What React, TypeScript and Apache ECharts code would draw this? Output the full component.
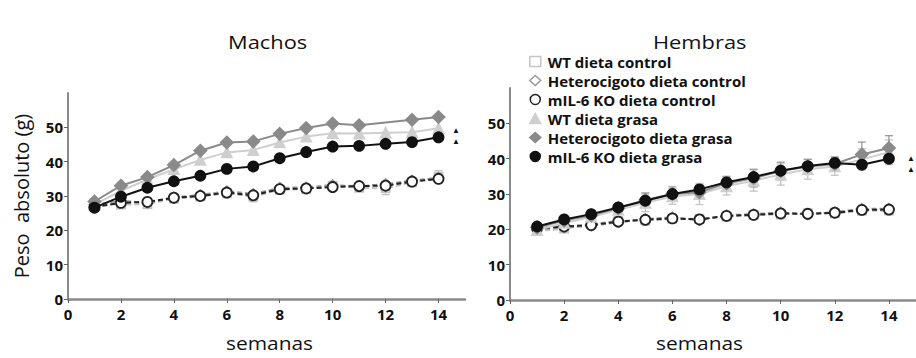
import React, { useEffect, useRef } from "react";
import * as echarts from "echarts";

const weeks = [1, 2, 3, 4, 5, 6, 7, 8, 9, 10, 11, 12, 13, 14];
const xTicks = [0, 2, 4, 6, 8, 10, 12, 14];
const yTicks = [0, 10, 20, 30, 40, 50];
const seriesNames = [
  "WT dieta control",
  "Heterocigoto dieta control",
  "mIL-6 KO dieta control",
  "WT dieta grasa",
  "Heterocigoto dieta grasa",
  "mIL-6 KO dieta grasa",
];

// Machos (males)
const mWTControl = [28.0, 27.5, 27.6, 29.2, 29.8, 30.8, 29.8, 31.8, 32.0, 33.0, 32.4, 32.2, 34.0, 35.6];
const mHetControl = [27.5, 28.6, 28.0, 29.6, 30.3, 31.4, 30.6, 32.4, 32.5, 33.2, 32.8, 33.5, 34.5, 35.3];
const mKOControl = [26.8, 28.0, 28.3, 29.5, 30.0, 31.0, 30.2, 32.0, 32.2, 32.6, 32.9, 33.0, 34.2, 35.0];
const mWTGrasa = [27.5, 31.5, 34.8, 37.8, 40.5, 42.7, 43.4, 45.6, 47.3, 48.3, 48.2, 48.4, 48.6, 49.7];
const mHetGrasa = [28.4, 33.0, 35.5, 39.0, 43.2, 45.6, 45.9, 48.1, 49.8, 51.1, 50.6, null, 52.2, 53.0];
const mKOGrasa = [26.6, 29.8, 32.4, 34.3, 35.9, 37.9, 38.6, 41.0, 42.8, 44.4, 44.6, 45.2, 45.7, 47.1];
const mWTControlErr = [1.0, 0.8, 1.2, 0.8, 0.8, 1.0, 1.5, 0.8, 0.8, 1.0, 1.0, 1.8, 1.0, 1.8];

// Hembras (females)
const fWTControl = [19.5, 20.2, 21.5, 22.4, 22.5, 23.0, 23.0, 23.6, 24.0, 24.2, 24.6, 24.5, 25.2, 25.3];
const fHetControl = [20.0, 20.5, 21.0, 22.0, 22.9, 23.4, 22.6, 24.0, 24.3, 24.8, 24.2, 24.9, 25.8, 25.8];
const fKOControl = [20.3, 20.8, 21.2, 22.2, 22.7, 23.1, 22.8, 23.8, 24.1, 24.5, 24.4, 24.7, 25.5, 25.6];
const fWTGrasa = [19.8, 21.8, 23.5, 25.5, 27.5, 29.3, 30.0, 32.2, 33.8, 35.5, 37.0, 37.8, 39.8, 41.8];
const fHetGrasa = [20.5, 22.5, 24.0, 26.0, 28.3, 30.0, 30.5, 33.0, 34.5, 36.5, 37.8, 38.5, 41.2, 43.0];
const fKOGrasa = [20.8, 22.8, 24.3, 26.2, 28.1, 30.0, 31.3, 33.3, 34.8, 36.6, 37.9, 38.8, 38.3, 40.0];
const fWTGrasaErr = [0.8, 0.8, 1.0, 1.2, 2.5, 2.2, 3.0, 2.5, 3.0, 3.0, 2.8, 2.5, 3.0, 3.5];
const fHetGrasaErr = [0.6, 0.8, 1.0, 1.0, 2.0, 2.0, 2.0, 2.0, 2.5, 2.5, 2.0, 2.0, 3.5, 3.5];

const FONT = "Open Sans";

const styles = [
  { symbol: "rect", size: 8, color: "#c4c4c4", fill: "#ffffff", dashed: true, lineColor: "#c4c4c4" },
  { symbol: "diamond", size: 10, color: "#9a9a9a", fill: "#ffffff", dashed: true, lineColor: "#9a9a9a" },
  { symbol: "circle", size: 10, color: "#222222", fill: "#ffffff", dashed: true, lineColor: "#222222" },
  { symbol: "triangle", size: 10, color: "#cfcfcf", fill: "#cfcfcf", dashed: false, lineColor: "#cfcfcf" },
  { symbol: "diamond", size: 12, color: "#8a8a8a", fill: "#8a8a8a", dashed: false, lineColor: "#8a8a8a" },
  { symbol: "circle", size: 10, color: "#111111", fill: "#111111", dashed: false, lineColor: "#111111" },
];

function pairs(vals: (number | null)[]) {
  return weeks.map((w, i) => [w, vals[i]]);
}

function errData(vals: (number | null)[], errs: number[]) {
  return weeks
    .map((w, i) => (vals[i] == null ? null : [w, (vals[i] as number) - errs[i], (vals[i] as number) + errs[i]]))
    .filter((d) => d !== null);
}

function errorSeries(idx: number, vals: (number | null)[], errs: number[], color: string) {
  return {
    type: "custom",
    xAxisIndex: idx,
    yAxisIndex: idx,
    z: 1,
    silent: true,
    data: errData(vals, errs),
    renderItem: (_params: any, api: any) => {
      const x = api.value(0);
      const p1 = api.coord([x, api.value(1)]);
      const p2 = api.coord([x, api.value(2)]);
      const w = 4;
      const st = { stroke: color, lineWidth: 1.3 };
      return {
        type: "group",
        children: [
          { type: "line", shape: { x1: p1[0], y1: p1[1], x2: p2[0], y2: p2[1] }, style: st },
          { type: "line", shape: { x1: p1[0] - w, y1: p1[1], x2: p1[0] + w, y2: p1[1] }, style: st },
          { type: "line", shape: { x1: p2[0] - w, y1: p2[1], x2: p2[0] + w, y2: p2[1] }, style: st },
        ],
      };
    },
  };
}

function lineSeries(idx: number, k: number, vals: (number | null)[]) {
  const s = styles[k];
  return {
    type: "line",
    name: seriesNames[k],
    xAxisIndex: idx,
    yAxisIndex: idx,
    data: pairs(vals),
    connectNulls: true,
    symbol: s.symbol,
    symbolSize: s.size,
    z: 2 + k,
    itemStyle: { color: s.fill, borderColor: s.color, borderWidth: 1.8 },
    lineStyle: { color: s.lineColor, width: 2, type: s.dashed ? [5, 3] : "solid" },
  };
}

function xAxis(idx: number) {
  return {
    type: "value",
    gridIndex: idx,
    min: 0,
    max: 15,
    axisLine: { show: true, lineStyle: { color: "#8a8a8a", width: 2.5 } },
    axisTick: { show: true, customValues: xTicks, length: 4, lineStyle: { color: "#666", width: 1 } },
    axisLabel: {
      customValues: xTicks,
      color: "#111",
      fontFamily: FONT,
      fontWeight: "bold",
      fontSize: 15,
      margin: 7,
    },
    splitLine: { show: false },
  };
}

function yAxis(idx: number) {
  return {
    type: "value",
    gridIndex: idx,
    min: 0,
    max: 60,
    axisLine: { show: true, lineStyle: { color: "#8a8a8a", width: 2 } },
    axisTick: { show: true, customValues: yTicks, length: 4, lineStyle: { color: "#666", width: 1 } },
    axisLabel: {
      customValues: yTicks,
      color: "#111",
      fontFamily: FONT,
      fontWeight: "bold",
      fontSize: 15,
      margin: 5,
    },
    splitLine: { show: false },
  };
}

export default function App() {
  const ref = useRef<HTMLDivElement>(null);

  useEffect(() => {
    if (!ref.current) return;
    const chart = echarts.init(ref.current, null, { renderer: "svg" });

    const legendData = seriesNames.map((n, k) => ({
      name: n,
      icon: styles[k].symbol,
      itemStyle: { color: styles[k].fill, borderColor: styles[k].color, borderWidth: 1.5 },
    }));

    const option: any = {
      animation: false,
      backgroundColor: "#ffffff",
      grid: [
        { left: 68, top: 93, width: 397, height: 206 },
        { left: 510, top: 88, width: 412, height: 212 },
      ],
      xAxis: [xAxis(0), xAxis(1)],
      yAxis: [yAxis(0), yAxis(1)],
      legend: {
        orient: "vertical",
        left: 524,
        top: 49,
        itemGap: 4,
        itemWidth: 11,
        itemHeight: 10,
        selectedMode: false,
        data: legendData,
        textStyle: {
          fontFamily: FONT,
          fontWeight: "bold",
          fontSize: 15,
          lineHeight: 15,
          color: "#111",
          padding: [0, 0, 0, 2],
        },
      },
      graphic: [
        { type: "text", left: 228, top: 32, scaleX: 1.15, style: { text: "Machos", font: `19px '${FONT}'`, fill: "#111" } },
        { type: "text", left: 653, top: 32, scaleX: 1.15, style: { text: "Hembras", font: `19px '${FONT}'`, fill: "#111" } },
        { type: "text", left: 226, top: 333, scaleX: 1.1, style: { text: "semanas", font: `19px '${FONT}'`, fill: "#111" } },
        { type: "text", left: 656, top: 333, scaleX: 1.1, style: { text: "semanas", font: `19px '${FONT}'`, fill: "#111" } },
        {
          type: "text",
          x: 21,
          y: 196,
          rotation: Math.PI / 2,
          style: { text: "Peso  absoluto (g)", font: `20px '${FONT}'`, fill: "#111", align: "center", verticalAlign: "middle" },
        },
        { type: "text", x: 452, y: 125, style: { text: "▲", font: `8px '${FONT}'`, fill: "#111" } },
        { type: "text", x: 452, y: 136, style: { text: "▲", font: `8px '${FONT}'`, fill: "#111" } },
        { type: "text", x: 907, y: 153, style: { text: "▲", font: `8px '${FONT}'`, fill: "#111" } },
        { type: "text", x: 907, y: 164, style: { text: "▲", font: `8px '${FONT}'`, fill: "#111" } },
      ],
      series: [
        errorSeries(0, mWTControl, mWTControlErr, "#c4c4c4"),
        lineSeries(0, 0, mWTControl),
        lineSeries(0, 1, mHetControl),
        lineSeries(0, 2, mKOControl),
        lineSeries(0, 3, mWTGrasa),
        lineSeries(0, 4, mHetGrasa),
        lineSeries(0, 5, mKOGrasa),
        errorSeries(1, fWTGrasa, fWTGrasaErr, "#c4c4c4"),
        errorSeries(1, fHetGrasa, fHetGrasaErr, "#9a9a9a"),
        lineSeries(1, 0, fWTControl),
        lineSeries(1, 1, fHetControl),
        lineSeries(1, 2, fKOControl),
        lineSeries(1, 3, fWTGrasa),
        lineSeries(1, 4, fHetGrasa),
        lineSeries(1, 5, fKOGrasa),
      ],
    };
    chart.setOption(option);
    return () => chart.dispose();
  }, []);

  return (
    <div
      ref={ref}
      style={{ position: "fixed", left: 0, top: 0, width: 916, height: 358, background: "#fff" }}
    />
  );
}
